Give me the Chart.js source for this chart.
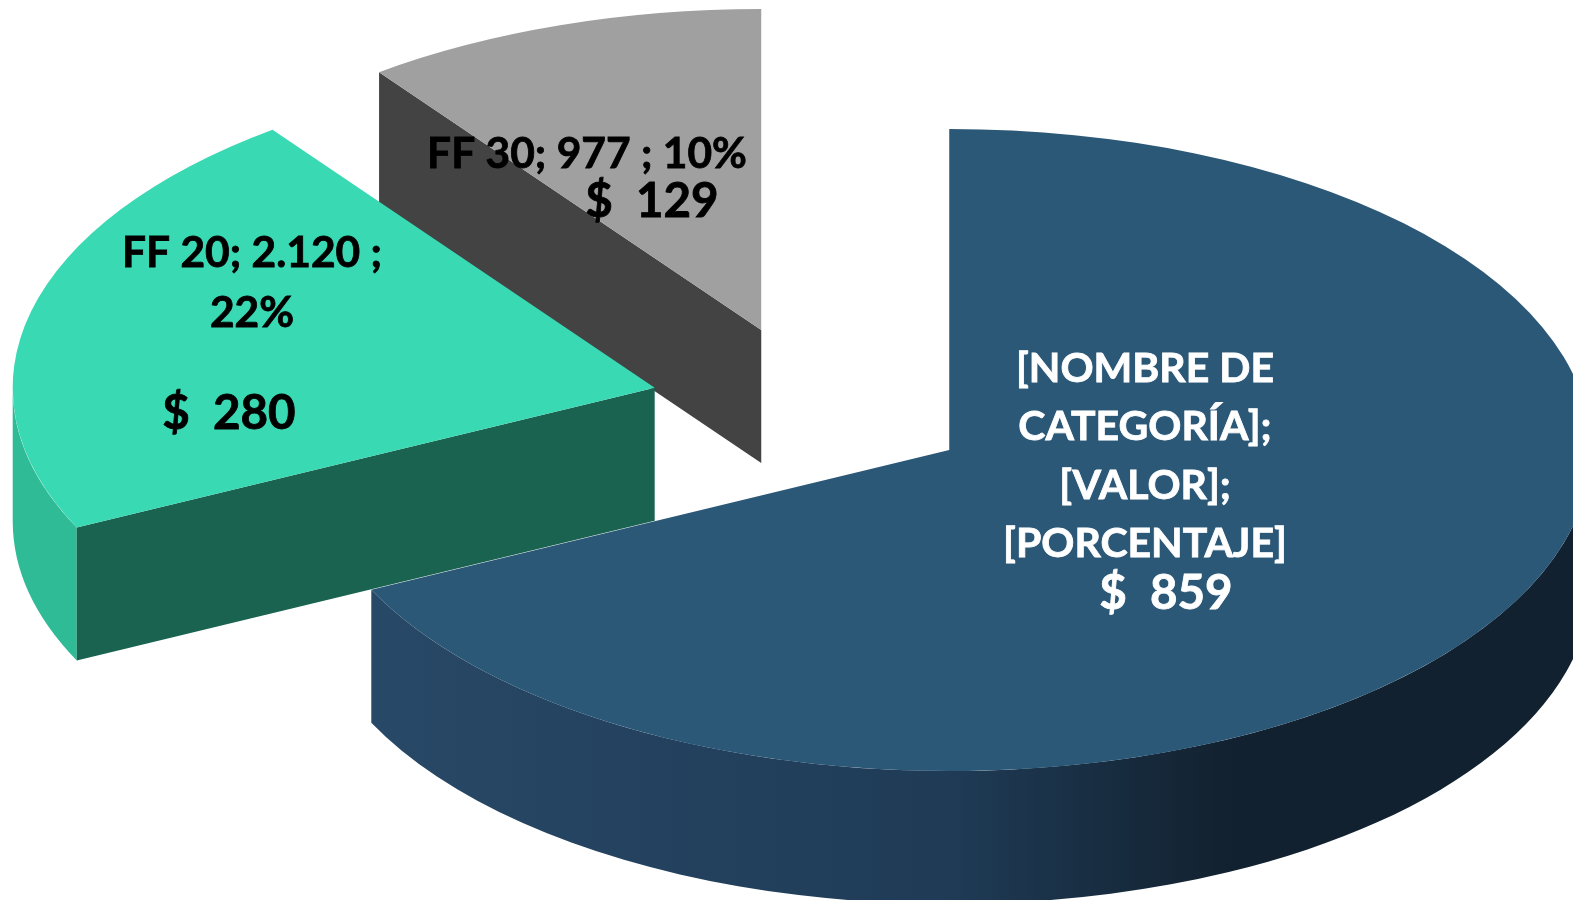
<!DOCTYPE html>
<html>
<head>
<meta charset="utf-8">
<style>
  html, body { margin: 0; padding: 0; background: #fff; overflow: hidden; }
  canvas { display: block; }
</style>
<script src="https://cdn.jsdelivr.net/npm/chart.js@4/dist/chart.umd.js"></script>
</head>
<body>
<canvas id="pie3d" width="1573" height="900"></canvas>
<script>
// data
var categories = ['[NOMBRE DE CATEGORÍA]', 'FF 20', 'FF 30'];
var amounts = [6530, 2120, 977];
var dollarLabels = ['$  859', '$  280', '$  129'];
var nameLines = [
  ['[NOMBRE DE', 'CATEGORÍA];', '[VALOR];', '[PORCENTAJE]'],
  ['FF 20; 2.120 ;', '22%'],
  ['FF 30; 977 ; 10%']
];

// look of the slices
var topColors = ['#2c5878', '#39d9b3', '#a0a0a0'];
var cutColors = ['#1e3a54', '#196350', '#434343'];
var rimColors = [null, '#30bb97', '#6e6e6e'];
var drawOrder = [2, 0, 1];

var SQUASH = 0.5;
var RADIUS = 642;
var EXPLODE = 162;
var DEPTH = 133;

// label placement, center of each line in page pixels
var nameSpots = [
  [[1145, 369], [1145, 427], [1145, 486], [1145, 544]],
  [[252, 253], [252, 313]],
  [[587, 154]]
];
var dollarSpots = [[1166, 594], [229, 414], [652, 202]];
var nameFonts = ['bold 41px Lato', 'bold 42.5px Lato', 'bold 42.5px Lato'];
var textColors = ['#ffffff', '#000000', '#000000'];

function rimPath(ctx, arc, from, to) {
  var dy = DEPTH / SQUASH;
  ctx.beginPath();
  ctx.arc(arc.x, arc.y, arc.outerRadius, from, to);
  ctx.arc(arc.x, arc.y + dy, arc.outerRadius, to, from, true);
  ctx.closePath();
}

function cutPath(ctx, arc, angle) {
  var dy = DEPTH / SQUASH;
  var ex = arc.x + Math.cos(angle) * arc.outerRadius;
  var ey = arc.y + Math.sin(angle) * arc.outerRadius;
  ctx.beginPath();
  ctx.moveTo(arc.x, arc.y);
  ctx.lineTo(ex, ey);
  ctx.lineTo(ex, ey + dy);
  ctx.lineTo(arc.x, arc.y + dy);
  ctx.closePath();
}

function drawSlice(ctx, arc, i) {
  var mid = (arc.startAngle + arc.endAngle) / 2;
  ctx.save();
  // already inside the squashed space, so this lands on the ellipse axis
  ctx.translate(Math.cos(mid) * EXPLODE, Math.sin(mid) * EXPLODE);

  // side walls, only those that face the viewer
  var from = Math.max(arc.startAngle, 0);
  var to = Math.min(arc.endAngle, Math.PI);
  if (to > from) {
    rimPath(ctx, arc, from, to);
    if (i === 0) {
      var g = ctx.createLinearGradient(arc.x - arc.outerRadius, 0, arc.x + arc.outerRadius, 0);
      g.addColorStop(0, '#294a69');
      g.addColorStop(0.5, '#1f3b56');
      g.addColorStop(0.72, '#12212f');
      g.addColorStop(1, '#12212f');
      ctx.fillStyle = g;
    } else {
      ctx.fillStyle = rimColors[i];
    }
    ctx.fill();
  }
  if (Math.cos(arc.startAngle) < -1e-6) {
    cutPath(ctx, arc, arc.startAngle);
    ctx.fillStyle = cutColors[i];
    ctx.fill();
  }
  if (Math.cos(arc.endAngle) > 1e-6) {
    cutPath(ctx, arc, arc.endAngle);
    ctx.fillStyle = cutColors[i];
    ctx.fill();
  }

  arc.draw(ctx);
  ctx.restore();
}

function boldText(ctx, text, spot) {
  // Lato bold reads a bit lighter than the original face
  ctx.fillText(text, spot[0], spot[1]);
  ctx.strokeText(text, spot[0], spot[1]);
}

var pie3dPlugin = {
  id: 'pie3d',
  beforeDatasetsDraw: function(chart) {
    var ctx = chart.ctx;
    var arcs = chart.getDatasetMeta(0).data;
    var cy = arcs[0].y;
    ctx.save();
    ctx.translate(0, cy);
    ctx.scale(1, SQUASH);
    ctx.translate(0, -cy);
    drawOrder.forEach(function(i) {
      drawSlice(ctx, arcs[i], i);
    });
    ctx.restore();
    return false;
  },
  afterDraw: function(chart) {
    var ctx = chart.ctx;
    ctx.save();
    ctx.textAlign = 'center';
    ctx.textBaseline = 'middle';
    ctx.lineWidth = 0.8;
    drawOrder.forEach(function(i) {
      ctx.fillStyle = textColors[i];
      ctx.strokeStyle = textColors[i];
      ctx.font = nameFonts[i];
      nameLines[i].forEach(function(line, n) {
        boldText(ctx, line, nameSpots[i][n]);
      });
      ctx.font = 'bold 47.5px Lato';
      boldText(ctx, dollarLabels[i], dollarSpots[i]);
    });
    ctx.restore();
  }
};

new Chart(document.getElementById('pie3d'), {
  type: 'pie',
  data: {
    labels: categories,
    datasets: [{
      data: amounts,
      backgroundColor: topColors,
      borderWidth: 0
    }]
  },
  options: {
    responsive: false,
    animation: false,
    radius: RADIUS,
    layout: { padding: { left: 51, bottom: 86 } },
    plugins: {
      legend: { display: false },
      tooltip: { enabled: false }
    }
  },
  plugins: [pie3dPlugin]
});
</script>
</body>
</html>
